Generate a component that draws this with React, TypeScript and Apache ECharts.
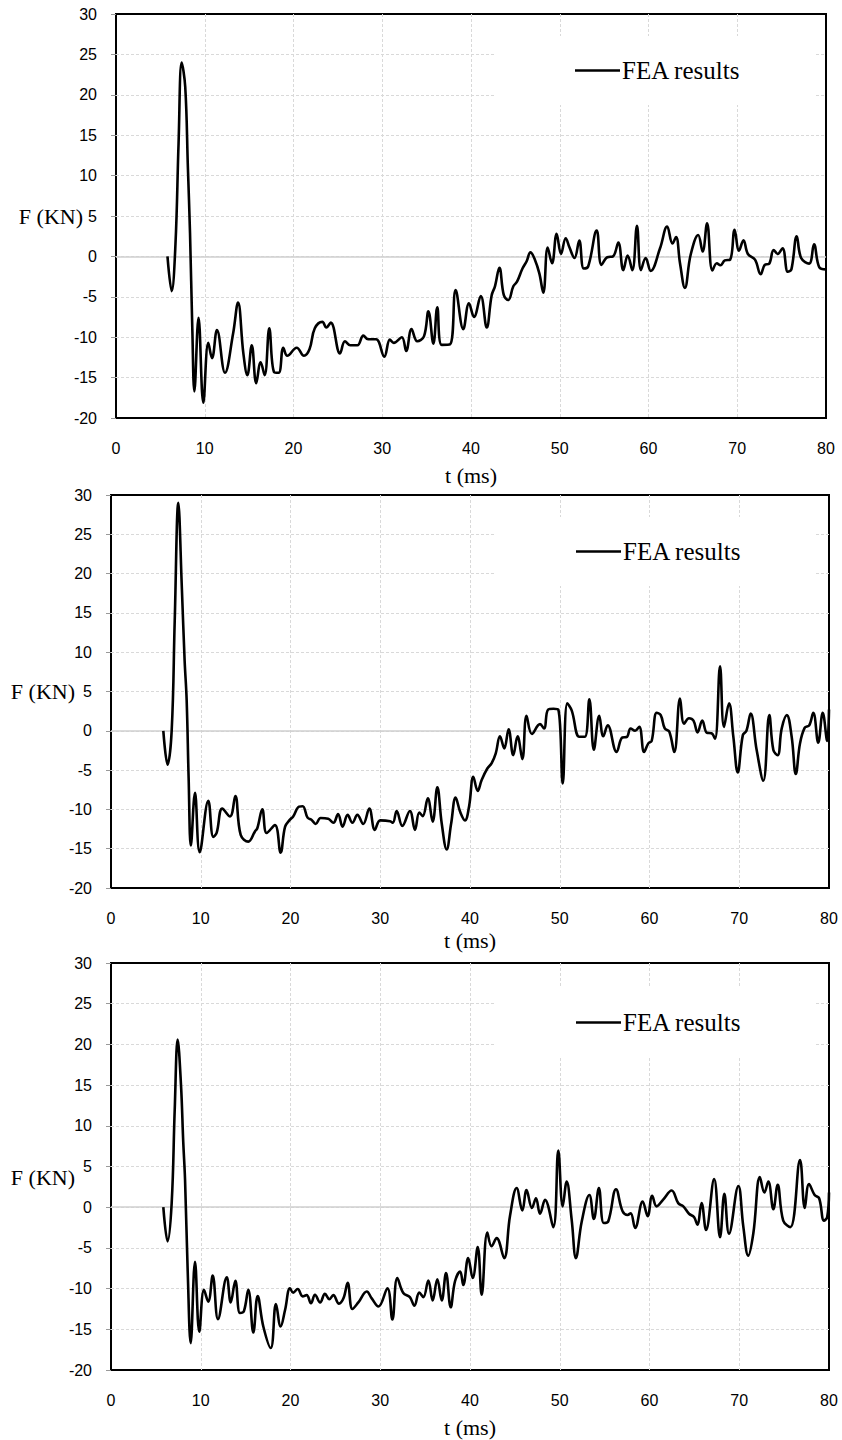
import React, { useEffect, useRef } from "react";
import * as echarts from "echarts";

// ---- Data (t in ms, F in kN) ----
const xTicks = [0, 10, 20, 30, 40, 50, 60, 70, 80];
const yTicks = [-20, -15, -10, -5, 0, 5, 10, 15, 20, 25, 30];
const seriesName = "FEA results";

const t1 = [5.8, 6.27, 6.7, 7.05, 7.4, 7.8, 8.1, 8.34, 8.6, 8.83, 9.3, 9.84, 10.4, 10.82, 11.38, 12.28, 13.2, 13.75, 14.35, 14.8, 15.3, 15.8, 16.3, 16.75, 17.27, 17.8, 18.33, 18.85, 19.3, 20.36, 21.18, 21.8, 22.4, 23.25, 23.7, 24.2, 25.24, 25.8, 26.4, 27.2, 27.87, 28.4, 29.3, 30.23, 30.86, 31.3, 32.2, 32.7, 33.3, 33.95, 34.7, 35.2, 35.76, 36.2, 36.7, 37.63, 38.27, 39.13, 39.77, 40.34, 41.1, 41.77, 42.33, 42.7, 43.2, 43.7, 44.2, 44.77, 45.2, 45.8, 46.27, 46.7, 47.2, 47.7, 48.15, 48.64, 49.13, 49.65, 50.14, 50.67, 51.1, 51.66, 52.2, 52.7, 53.2, 54.16, 54.7, 55.36, 56.0, 56.6, 57.16, 57.65, 58.18, 58.7, 59.15, 59.68, 60.25, 61.3, 62.1, 62.7, 63.1, 63.55, 64.1, 64.75, 65.6, 66.1, 66.6, 67.2, 67.7, 68.1, 68.6, 69.2, 69.7, 70.2, 70.7, 71.2, 72.0, 72.64, 73.1, 73.6, 74.1, 74.55, 75.1, 75.7, 76.1, 76.7, 77.2, 78.1, 78.65, 79.25, 80.0];
const f1 = [0, -4.3, 1.5, 14, 24, 21, 11, 2.9, -9, -16.7, -7.6, -18.1, -10.7, -12.6, -9.1, -14.4, -9.5, -5.7, -12.0, -14.7, -11.0, -15.7, -13.1, -14.7, -8.9, -14.3, -14.4, -11.3, -12.3, -11.3, -12.3, -11.5, -8.9, -8.1, -8.8, -8.2, -12.0, -10.5, -11.0, -11.0, -9.8, -10.25, -10.25, -12.4, -10.3, -10.7, -10.0, -11.7, -9.0, -10.5, -9.9, -6.8, -10.8, -6.3, -10.95, -10.9, -4.15, -9.0, -5.8, -7.5, -4.9, -8.8, -4.8, -3.7, -1.4, -4.8, -5.4, -3.7, -3.1, -1.5, -0.6, 0.5, -0.4, -2.1, -4.5, 1.1, -0.85, 2.8, 0.3, 2.25, 1.1, -0.2, 1.95, -1.5, -1.25, 3.2, -1.05, -0.1, 0.0, 1.7, -1.7, 0.1, -1.7, 3.8, -1.7, -0.2, -1.8, 1.0, 3.7, 1.6, 2.4, -0.85, -3.9, 0.2, 2.65, 0.6, 4.1, -1.75, -0.85, -1.1, -0.5, -0.4, 3.3, 0.7, 2.0, 0.3, -0.4, -2.2, -1.05, -0.9, 0.8, 0.3, 1.0, -1.9, -1.6, 2.5, -0.2, -0.9, 1.5, -1.35, -1.6];

const t2 = [5.83, 6.3, 6.76, 7.1, 7.5, 7.9, 8.2, 8.43, 8.65, 8.9, 9.36, 9.88, 10.84, 11.4, 11.77, 12.4, 13.26, 13.85, 14.45, 15.3, 16.04, 16.3, 16.86, 17.35, 18.27, 18.9, 19.4, 19.94, 20.3, 20.95, 21.36, 21.9, 22.36, 22.8, 23.36, 24.2, 24.78, 25.3, 25.8, 26.37, 26.9, 27.45, 28.1, 28.78, 29.4, 30.0, 31.1, 31.4, 31.83, 32.46, 33.3, 33.87, 34.35, 34.73, 35.3, 35.84, 36.36, 36.85, 37.4, 37.9, 38.4, 38.9, 39.44, 39.9, 40.37, 40.86, 41.3, 41.93, 42.4, 42.86, 43.34, 43.82, 44.3, 44.82, 45.3, 45.83, 46.3, 46.9, 47.8, 48.25, 48.7, 49.3, 49.84, 50.33, 50.84, 51.33, 52.18, 52.8, 53.3, 53.8, 54.4, 54.85, 55.34, 56.34, 56.97, 57.46, 57.9, 58.4, 58.86, 59.4, 59.87, 60.24, 60.8, 61.25, 61.7, 62.2, 62.76, 63.4, 63.85, 64.4, 64.9, 65.35, 65.88, 66.4, 66.9, 67.3, 67.86, 68.3, 68.86, 69.34, 69.83, 70.4, 70.8, 71.27, 71.94, 72.68, 73.35, 73.8, 74.28, 74.73, 75.3, 75.84, 76.3, 76.77, 77.3, 77.8, 78.25, 78.8, 79.3, 79.8, 80.0];
const f2 = [0, -4.3, 0, 14, 29.0, 18, 9, 3.9, -6, -14.6, -7.9, -15.45, -8.9, -13.5, -13.0, -9.9, -10.9, -8.3, -13.25, -14.1, -12.8, -12.4, -10.0, -13.0, -12.0, -15.5, -12.2, -11.3, -10.9, -9.65, -9.6, -11.05, -11.35, -11.85, -11.1, -11.2, -11.7, -10.6, -12.2, -10.7, -11.7, -10.7, -11.85, -9.9, -12.6, -11.4, -11.5, -11.7, -10.2, -12.1, -10.2, -12.6, -10.4, -10.85, -8.6, -11.55, -7.2, -11.8, -15.1, -11.8, -8.5, -10.3, -11.4, -9.6, -5.85, -7.65, -6.25, -4.8, -4.15, -2.9, -0.7, -2.25, 0.2, -3.1, -0.7, -3.6, 1.9, -0.4, 0.85, 0.3, 2.7, 2.8, 2.7, -6.7, 3.5, 2.6, -0.75, -0.75, 4.0, -2.4, 1.9, -0.7, 0.7, -2.7, -0.85, -0.8, 0.3, 0, 0.5, -2.7, -1.6, -1.3, 2.3, 2.0, 0.3, -0.1, -2.7, 4.1, 0.9, 1.6, 1.3, -0.2, 1.3, -0.25, -0.3, -1.0, 8.2, 0.5, 3.5, -0.75, -5.3, -0.55, 0, 2.2, -2.45, -6.35, 2.0, -2.45, -3.1, 0.3, 2.0, -0.75, -5.5, -1.6, 0.4, 0.7, 2.3, -1.5, 2.3, -1.3, 2.7];

const t3 = [5.83, 6.3, 6.76, 7.1, 7.43, 7.8, 8.05, 8.25, 8.55, 8.88, 9.36, 9.84, 10.36, 10.84, 11.33, 11.92, 12.9, 13.34, 13.85, 14.37, 14.8, 15.3, 15.86, 16.34, 16.97, 17.8, 18.38, 18.9, 19.4, 19.94, 20.3, 20.8, 21.36, 21.8, 22.28, 22.73, 23.3, 23.84, 24.33, 24.77, 25.4, 25.9, 26.37, 26.9, 27.56, 28.5, 29.05, 29.8, 30.8, 31.35, 31.9, 32.57, 33.3, 33.8, 34.35, 34.8, 35.36, 35.84, 36.36, 36.85, 37.33, 37.85, 38.33, 38.9, 39.25, 39.8, 40.3, 40.86, 41.3, 41.93, 42.4, 42.97, 43.8, 44.46, 45.2, 45.83, 46.3, 46.9, 47.35, 47.8, 48.36, 49.28, 49.84, 50.33, 50.77, 51.33, 51.8, 52.45, 53.3, 53.8, 54.36, 54.9, 55.4, 56.27, 57.0, 57.56, 57.9, 58.4, 59.24, 59.8, 60.3, 60.8, 61.5, 62.47, 63.2, 63.77, 64.4, 64.96, 65.33, 65.8, 66.3, 67.2, 67.86, 68.34, 68.86, 69.9, 70.45, 71.0, 71.57, 72.3, 72.8, 73.24, 73.8, 74.28, 74.9, 75.7, 76.77, 77.3, 77.77, 78.4, 78.9, 79.44, 79.8, 80.0];
const f3 = [0, -4.2, 0.5, 12, 20.6, 15, 8, 3.4, -8, -16.7, -6.7, -15.3, -10.15, -11.6, -8.4, -13.75, -8.6, -11.7, -9.05, -13.0, -12.8, -10.15, -15.4, -10.9, -14.65, -17.3, -11.9, -14.65, -12.6, -9.95, -10.5, -10.05, -10.95, -10.8, -11.8, -10.75, -11.7, -10.65, -11.3, -10.8, -11.85, -11.2, -9.3, -12.5, -11.7, -10.35, -11.2, -12.2, -9.95, -13.8, -8.7, -10.55, -11.05, -12.1, -10.5, -11.05, -9.0, -11.45, -8.85, -11.45, -8.1, -12.3, -9.1, -7.9, -9.55, -6.25, -8.7, -4.9, -10.75, -3.1, -4.8, -3.8, -6.25, -1.05, 2.35, -0.4, 2.1, -0.1, 1.1, -0.8, 0.9, -2.45, 6.95, 0.1, 3.15, -1.55, -6.25, -1.75, 1.5, -1.45, 2.35, -1.95, -1.75, 2.2, -0.5, -0.95, -0.75, -2.55, 0.7, -1.1, 1.4, 0.1, 0.9, 2.05, 0.5, 0.1, -0.8, -1.2, -2.15, 0.5, -2.8, 3.45, -3.7, 1.65, -3.25, 2.6, -2.35, -5.95, -3.2, 3.7, 1.8, 3.15, -0.25, 2.75, -1.65, -2.45, 5.8, -0.1, 2.85, 1.5, 1.1, -1.65, -1.2, 1.8];

const panels = [
  { t: t1, f: f1 },
  { t: t2, f: f2 },
  { t: t3, f: f3 },
];

// ---- Layout (pixels) ----
const grids = [
  { left: 116, right: 16, top: 14, height: 404 },
  { left: 111, right: 13, top: 495, height: 393 },
  { left: 111, right: 13, top: 963, height: 407 },
];
const legendTops = [36, 517, 988];
const legendLefts = [494, 495, 495];
const yNameGaps = [33, 36, 36];
const yNameVAlign = ["middle", "middle", "top"];
const xNameGaps = [46, 41, 46];

const sans = "'Liberation Sans', Arial, sans-serif";
const serif = "'Liberation Serif', 'Times New Roman', serif";

export default function App() {
  const ref = useRef<HTMLDivElement>(null);

  useEffect(() => {
    document.body.style.margin = "0";
    if (!ref.current) return;
    const chart = echarts.init(ref.current, undefined, { renderer: "svg" });

    const gridOpt = grids.map((g) => ({
      ...g,
      show: true,
      borderColor: "#000",
      borderWidth: 2,
      backgroundColor: "transparent",
      containLabel: false,
    }));

    const splitLine = {
      show: true,
      showMinLine: false,
      showMaxLine: false,
      lineStyle: { color: "#d9d9d9", type: [3, 2], width: 1 },
    };

    const xAxes = grids.map((_, i) => ({
      type: "value",
      gridIndex: i,
      min: xTicks[0],
      max: xTicks[xTicks.length - 1],
      interval: 10,
      name: "t (ms)",
      nameLocation: "middle",
      nameGap: xNameGaps[i],
      nameTextStyle: { fontFamily: serif, fontSize: 22, color: "#000" },
      axisLine: { show: false, onZero: false },
      axisTick: { show: false },
      axisLabel: { fontFamily: sans, fontSize: 16, color: "#000", margin: 22 },
      splitLine,
    }));

    const yAxes = grids.map((_, i) => ({
      type: "value",
      gridIndex: i,
      min: yTicks[0],
      max: yTicks[yTicks.length - 1],
      interval: 5,
      name: "F (KN)",
      nameLocation: "middle",
      nameRotate: 0,
      nameGap: yNameGaps[i],
      nameMoveOverlap: false,
      nameTextStyle: {
        fontFamily: serif,
        fontSize: 22,
        color: "#000",
        align: "right",
        verticalAlign: yNameVAlign[i],
      },
      axisLine: { show: false, onZero: false },
      axisTick: { show: true, length: 5, lineStyle: { color: "#999" } },
      axisLabel: { fontFamily: sans, fontSize: 16, color: "#000", margin: 19 },
      splitLine,
    }));

    const series = panels.map((p, i) => ({
      type: "line",
      name: seriesName,
      xAxisIndex: i,
      yAxisIndex: i,
      data: p.t.map((t, k) => [t, p.f[k]]),
      symbol: "none",
      smooth: 0.4,
      lineStyle: { color: "#000", width: 2.6 },
      itemStyle: { color: "#000" },
      z: 3,
      markLine: {
        silent: true,
        z: 1,
        symbol: ["none", "none"],
        label: { show: false },
        lineStyle: { color: "#cfcfcf", type: "solid", width: 1.5 },
        data: [{ yAxis: 0 }],
      },
    }));

    const legends = grids.map((_, i) => ({
      left: legendLefts[i],
      top: legendTops[i],
      orient: "horizontal",
      backgroundColor: "#fff",
      padding: [22, 74, 22, 81],
      icon: "rect",
      itemWidth: 45,
      itemHeight: 2.6,
      itemGap: 0,
      selectedMode: false,
      data: [{ name: seriesName, icon: "rect" }],
      textStyle: { fontFamily: serif, fontSize: 25, color: "#000", padding: [0, 0, 0, -3] },
    }));

    chart.setOption({
      animation: false,
      backgroundColor: "#fff",
      grid: gridOpt,
      xAxis: xAxes,
      yAxis: yAxes,
      legend: legends,
      series,
    } as any);

    return () => chart.dispose();
  }, []);

  return (
    <div
      ref={ref}
      style={{ position: "absolute", left: 0, top: 0, width: 842, height: 1440 }}
    />
  );
}
